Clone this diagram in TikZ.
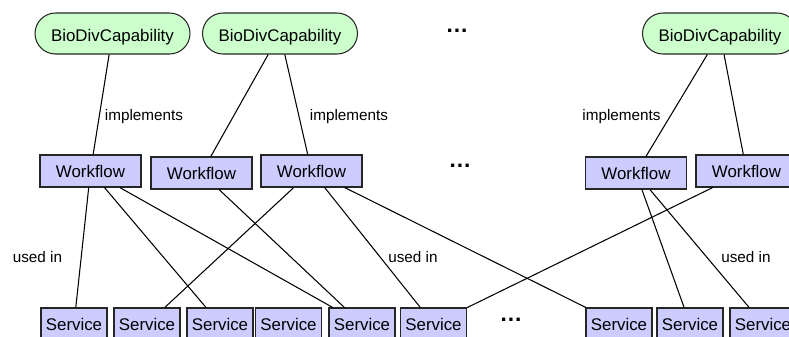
\documentclass[tikz,border=0pt]{standalone}
\usepackage{fontspec}
\setmainfont{Liberation Sans}
\usetikzlibrary{shapes.misc}
\definecolor{capgreen}{RGB}{204,255,204}
\definecolor{boxblue}{RGB}{204,204,255}

\begin{document}
\begin{tikzpicture}[x=0.02cm,y=-0.02cm,line width=0.6pt,
       capnode/.style={rounded rectangle,draw=black!85,fill=capgreen,minimum width=3.1cm,minimum height=0.82cm,inner sep=0pt,text height=9pt,text depth=0pt,font=\fontsize{9.6}{11}\selectfont},
       wfnode/.style={rectangle,draw=black!85,fill=boxblue,minimum width=2.02cm,minimum height=0.64cm,inner sep=0pt,text depth=0pt,font=\fontsize{9.6}{11}\selectfont},
       svnode/.style={wfnode,minimum width=1.32cm},
       lbl/.style={inner sep=0pt,font=\fontsize{8.7}{10}\selectfont},
       dotnode/.style={inner sep=0pt,text depth=0pt,font=\fontsize{13}{14}\selectfont\bfseries}]
       \useasboundingbox(0,0)rectangle(789,336);
       \clip(0,0)rectangle(789,336);
       \node[capnode](cap1)at(112.5,33.5){BioDivCapability};
       \node[capnode](cap2)at(280,33.5){BioDivCapability};
       \node[capnode](cap3)at(720,33.5){BioDivCapability};
       \node[wfnode](wf1)at(90.5,171){Workflow};
       \node[wfnode](wf2)at(201.5,173){Workflow};
       \node[wfnode](wf3)at(311.5,171){Workflow};
       \node[wfnode](wf4)at(636,173){Workflow};
       \node[wfnode](wf5)at(746.5,171){Workflow};
       \node[svnode](sv1)at(74,324){Service};
       \node[svnode](sv2)at(147,324){Service};
       \node[svnode](sv3)at(220,324){Service};
       \node[svnode](sv4)at(288.5,324){Service};
       \node[svnode](sv5)at(362,324){Service};
       \node[svnode](sv6)at(433.5,324){Service};
       \node[svnode](sv7)at(619,324){Service};
       \node[svnode](sv8)at(690,324){Service};
       \node[svnode](sv9)at(763,324){Service};
       \node[dotnode](dots1)at(457,31){…};
       \node[dotnode](dots2)at(460,166){…};
       \node[dotnode](dots3)at(511,320){…};
       \draw(cap1)--(wf1);
       \draw(cap2)--(wf2);
       \draw(cap2)--(wf3);
       \draw(cap3)--(wf4);
       \draw(cap3)--(wf5);
       \draw(wf1)--(sv1);
       \draw(wf1)--(sv3);
       \draw(wf1)--(sv5);
       \draw(wf2)--(sv5);
       \draw(wf3)--(sv2);
       \draw(wf3)--(sv6);
       \draw(wf3)--(sv7);
       \draw(wf4)--(sv8);
       \draw(wf4)--(sv9);
       \draw(wf5)--(sv6);
       \node[lbl](impl1)at(144,117){implements};
       \node[lbl](impl2)at(349,117){implements};
       \node[lbl](impl3)at(621.5,117){implements};
       \node[lbl](used1)at(37.5,257){used in};
       \node[lbl](used2)at(413,257){used in};
       \node[lbl](used3)at(746,257){used in};
      \end{tikzpicture}
\end{document}
